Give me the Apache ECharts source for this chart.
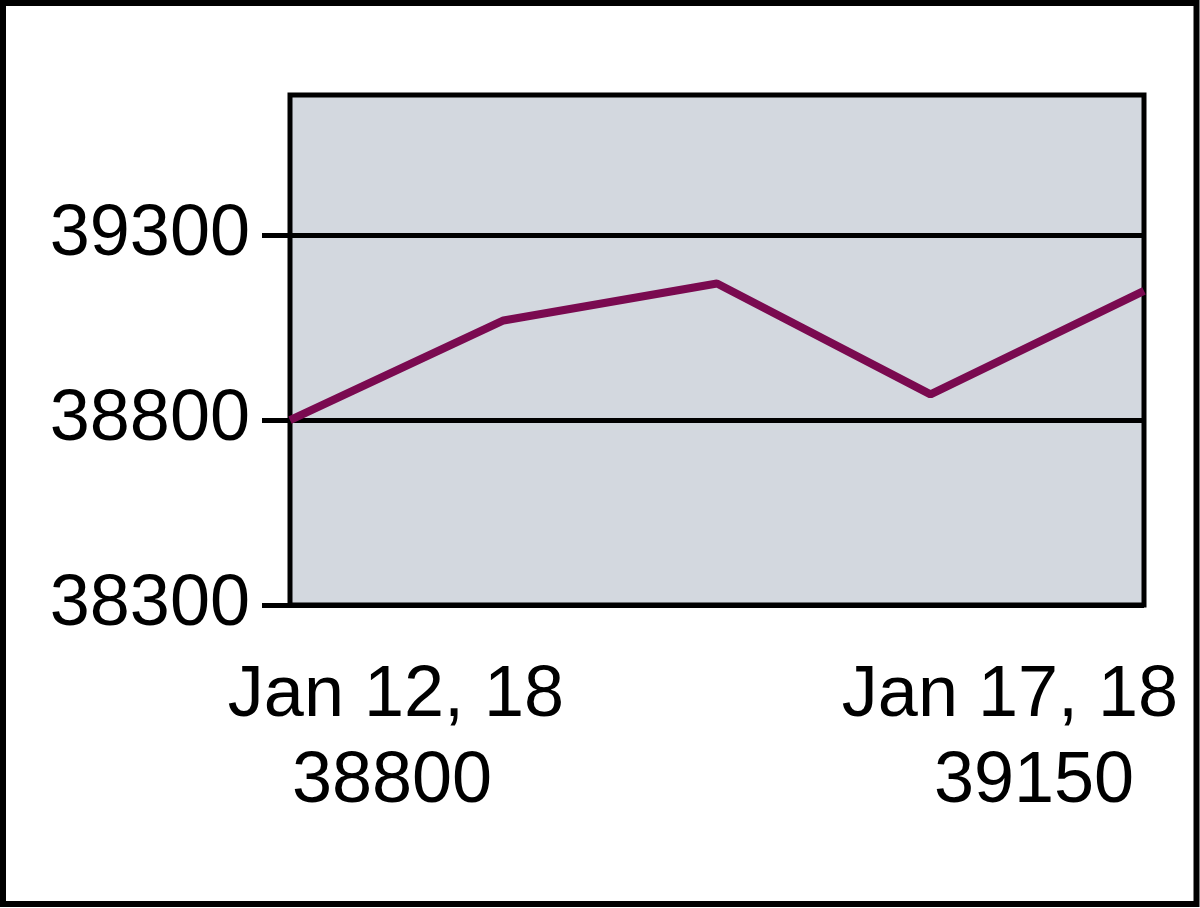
<!DOCTYPE html>
<html>
<head>
<meta charset="utf-8">
<script src="https://cdn.jsdelivr.net/npm/echarts@6/dist/echarts.min.js"></script>
<style>
  html, body { margin: 0; padding: 0; background: #ffffff; }
  #chart { width: 1200px; height: 908px; }
</style>
</head>
<body>
<div id="chart"></div>
<script>
// ---- data ----
const categories = ['Jan 12, 18', 'Jan 13, 18', 'Jan 15, 18', 'Jan 16, 18', 'Jan 17, 18'];
const values = [38800, 39070, 39170, 38870, 39150];
const yTicks = [38300, 38800, 39300];
const yMin = 38300;
const yMax = 39680;

const FONT = "'Liberation Sans', Arial, sans-serif";
const FS = 72;
const last = categories.length - 1;

const chart = echarts.init(document.getElementById('chart'), null, { renderer: 'canvas' });
chart.setOption({
  animation: false,
  backgroundColor: '#ffffff',
  graphic: [{
    type: 'rect',
    shape: { x: 3, y: 3, width: 1193.5, height: 901 },
    style: { fill: 'none', stroke: '#000000', lineWidth: 6 },
    z: 100
  }],
  grid: {
    left: 290, right: 56, top: 95, bottom: 303,
    show: true,
    backgroundColor: '#d3d8df',
    borderColor: '#000000',
    borderWidth: 5,
    containLabel: false,
    outerBoundsMode: 'none'
  },
  xAxis: {
    type: 'category',
    data: categories,
    boundaryGap: false,
    axisLine: { show: false },
    axisTick: { show: false },
    splitLine: { show: false },
    axisLabel: {
      interval: (i) => i === 0 || i === last,
      showMinLabel: true,
      showMaxLabel: true,
      hideOverlap: false,
      margin: 48,
      color: '#000000',
      fontFamily: FONT,
      fontSize: FS,
      lineHeight: 86,
      formatter: (val) => {
        const i = categories.indexOf(val);
        const v = String(values[i]);
        if (i === 0) return '{a1|' + val + '}\n{a2|' + v + '}';
        return '{b1|' + val + '}\n{b2|' + v + '}';
      },
      rich: {
        a1: { fontFamily: FONT, fontSize: FS, lineHeight: 86, color: '#000', padding: [0, 0, 0, 212] },
        a2: { fontFamily: FONT, fontSize: FS, lineHeight: 86, color: '#000', padding: [0, 0, 0, 204] },
        b1: { fontFamily: FONT, fontSize: FS, lineHeight: 86, color: '#000', padding: [0, 268, 0, 0] },
        b2: { fontFamily: FONT, fontSize: FS, lineHeight: 86, color: '#000', padding: [0, 220, 0, 0] }
      }
    }
  },
  yAxis: {
    type: 'value',
    min: yMin,
    max: yMax,
    interval: 500,
    axisLine: { show: false },
    axisTick: {
      show: true,
      length: 28,
      customValues: yTicks,
      lineStyle: { color: '#000000', width: 5 }
    },
    axisLabel: {
      customValues: yTicks,
      margin: 40,
      color: '#000000',
      fontFamily: FONT,
      fontSize: FS,
      formatter: (v) => String(v)
    },
    splitLine: { show: true, lineStyle: { color: '#000000', width: 5 } }
  },
  series: [{
    type: 'line',
    data: values,
    showSymbol: false,
    lineStyle: { color: '#7a0a50', width: 8 },
    itemStyle: { color: '#7a0a50' },
    z: 10
  }]
});
</script>
</body>
</html>
